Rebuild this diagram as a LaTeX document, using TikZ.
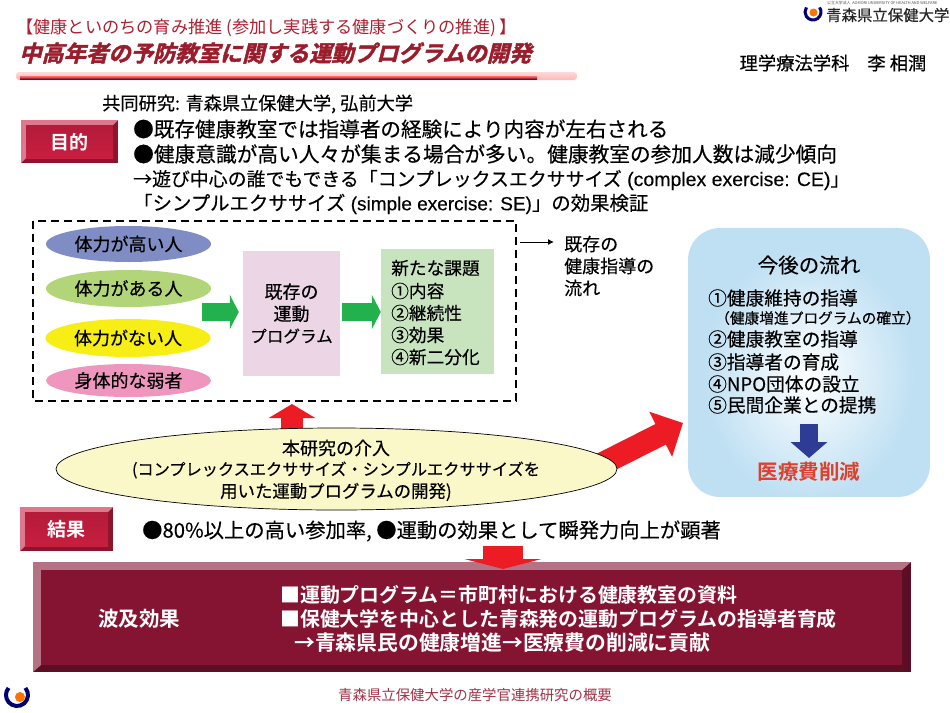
\documentclass[tikz,border=0pt]{standalone}
\usepackage{fontspec}
\usetikzlibrary{arrows.meta,shapes.geometric,calc}
\setmainfont[FakeBold=0.35]{Noto Sans CJK JP}
\newfontfamily\plainfont{Noto Sans CJK JP}
\newfontfamily\titlefont[FakeSlant=0.25,FakeBold=2]{Noto Sans CJK JP Bold}
\newfontfamily\boldfont{Noto Sans CJK JP Bold}
\newfontfamily\latfont[FakeBold=0.3]{Liberation Sans}
\newcommand{\fs}[1]{\fontsize{#1}{#1}\selectfont}
\newcommand{\warrow}{\makebox[1em]{→}}
\definecolor{headred}{HTML}{AC2030}
\definecolor{wine}{HTML}{851433}
\definecolor{lab}{HTML}{C81E40}
\definecolor{skyblue}{HTML}{BFE0F3}
\tikzset{
  x=1pt,y=-1pt,
  txt/.style={inner sep=0pt,anchor=west,text=black},
  ctr/.style={inner sep=0pt,align=center,text=black},
  body/.style={txt,font=\fs{20.6}},
  oval/.style={ellipse,minimum width=165pt,inner sep=0pt,font=\fs{18}},
  greenarrow/.style={line width=18pt,draw={rgb,255:red,34;green,177;blue,76},-{Triangle[length=9pt,width=34pt]}},
  redarrow/.style={draw={rgb,255:red,237;green,28;blue,36}},
  flowitem/.style={txt,font=\fs{18.7}},
  impact/.style={txt,text=white,font=\boldfont\fs{19.9}},
}
\begin{document}
\begin{tikzpicture}
\useasboundingbox (0,0) rectangle (950,712);
% header
\node[txt,text=headred,font=\plainfont\fs{17.2}] (hd) at (16,28) {【健康といのちの育み推進 (参加し実践する健康づくりの推進) 】};
\node[txt,text=headred!90!black,font=\titlefont\fs{22.3}] (ttl) at (19,53) {中高年者の予防教室に関する運動プログラムの開発};
\shade[top color=pink!60!white,bottom color=pink!80!red!70,rounded corners=3pt] (16,72) rectangle (577,80);
\shade[top color=red!50!pink,bottom color=wine!80!black] (20,76.5) rectangle (537,79);
\node[ctr,font=\fs{18.3}] (auth) at (833,63) {理学療法学科\hspace{18pt}李 相潤};
\node[txt,font=\fs{18.2}] (co) at (102,104) {共同研究: 青森県立保健大学, 弘前大学};
% top logo
\draw[line width=3pt,draw=blue!45!black] (813,12) ++(35:8pt) arc[start angle=35,end angle=-215,radius=8pt];
\fill[orange!90!red] (813.5,12.5) circle (4pt);
\node[txt,font=\fs{15.4},text=black!85] (logo) at (826,15) {青森県立保健大学};
\node[txt,font=\plainfont\fs{3.9},text=black!70] (logos) at (827,3) {公立大学法人\ \ AOMORI UNIVERSITY OF HEALTH AND WELFARE};
% purpose label
\fill[lab!70!black] (21,120) rectangle (118,163);
\fill[lab!60!white] (21,120) -- (118,120) -- (113,125) -- (26,125) -- (26,158) -- (21,163) -- cycle;
\shade[top color=lab!90!black,bottom color=lab] (26,125) rectangle (113,158);
\node[ctr,text=white,font=\boldfont\fs{19}] (mokuteki) at (69.5,142) {目的};
\node[body] (p1) at (133,129) {●既存健康教室では指導者の経験により内容が左右される};
\node[body,font=\fs{20.7}] (p2) at (133,154) {●健康意識が高い人々が集まる場合が多い。健康教室の参加人数は減少傾向};
\node[body,font=\fs{18.9}] (p3) at (133,180) {\warrow 遊び中心の誰でもできる「コンプレックスエクササイズ{\latfont\fs{19.5} (complex exercise: CE)}」};
\node[body,font=\fs{19.4}] (p4) at (133,204) {「シンプルエクササイズ{\latfont\fs{19} (simple exercise: SE)}」の効果検証};
% dashed group
\draw[line width=1.6pt,dash pattern=on 8pt off 5pt] (33,221) rectangle (516,401);
\node[oval,fill={rgb,255:red,128;green,141;blue,196},minimum height=36pt] (a1) at (128.5,244) {体力が高い人};
\node[oval,fill={rgb,255:red,178;green,213;blue,122},minimum height=37pt] (a2) at (128.5,288.5) {体力がある人};
\node[oval,fill={rgb,255:red,246;green,238;blue,20},minimum height=38pt] (a3) at (128,338) {体力がない人};
\node[oval,fill={rgb,255:red,238;green,150;blue,190},minimum height=33pt] (a4) at (128.5,380.5) {身体的な弱者};
\node[ctr,fill={rgb,255:red,236;green,214;blue,230},minimum width=97pt,minimum height=125pt,font=\fs{18}] (prog) at (291.5,313.5) {既存の\\[4pt]運動\\[4pt]{\fs{16.6}プログラム}};
\node[fill={rgb,255:red,200;green,228;blue,191},minimum width=113pt,minimum height=125pt,inner sep=0pt] (issue) at (437.5,311.5) {};
\node[txt,font=\fs{17.7}] (i0) at (391,268) {新たな課題};
\node[txt,font=\fs{17.7}] (i1) at (391,291) {①内容};
\node[txt,font=\fs{17.7}] (i2) at (391,313) {②継続性};
\node[txt,font=\fs{17.7}] (i3) at (391,335) {③効果};
\node[txt,font=\fs{17.7}] (i4) at (391,357) {④新二分化};
\coordinate (g1) at (202,312);
\coordinate (g2) at (342,312);
\draw[greenarrow,shorten >=4pt] (g1) -- (prog.west|-g1);
\draw[greenarrow] (g2) -- (issue.west|-g2);
% existing flow
\coordinate (ex) at (520,242);
\node[txt,font=\fs{18},align=left] (exist) at (564,266) {既存の\\[4pt]健康指導の\\[4pt]流れ};
\draw[line width=1pt,shorten >=10pt,-{Latex[length=6pt,width=6pt]}] (ex) -- (exist.west|-ex);
% red arrows behind ellipse
\coordinate (ru) at (292,436);
\coordinate (rt) at (292,404);
\draw[redarrow,line width=22pt,-{Triangle[length=14pt,width=46pt]}] (ru) -- (rt);
\coordinate (rd) at (590,470);
\coordinate (rq) at (683,423);
\draw[redarrow,line width=23pt,-{Triangle[length=25pt,width=49pt]}] (rd) -- (rq);
\node[ellipse,draw=black,line width=.7pt,fill={rgb,255:red,250;green,247;blue,200},minimum width=561pt,minimum height=82pt,inner sep=0pt] (intro) at (336.5,469) {};
\node[ctr,font=\fs{18}] (t1) at (336,448) {本研究の介入};
\node[ctr,font=\fs{16.2}] (t2) at (336,470) {(コンプレックスエクササイズ・シンプルエクササイズを};
\node[ctr,font=\fs{17.4}] (t3) at (336,492) {用いた運動プログラムの開発)};
% future flow
\begin{scope}
\clip[rounded corners=32pt] (688,228) rectangle (930,497);
\fill[skyblue] (688,228) rectangle (930,497);
\shade[inner color=white,outer color=skyblue] (809,375) ellipse [x radius=105pt,y radius=125pt];
\end{scope}
\node[ctr,font=\fs{20.5}] (fhead) at (809,265) {今後の流れ};
\node[flowitem] (f1) at (708,298) {①健康維持の指導};
\node[txt,font=\fs{14.7}] (f1b) at (715,318) {（健康増進プログラムの確立）};
\node[flowitem] (f2) at (708,339) {②健康教室の指導};
\node[flowitem] (f3) at (708,362) {③指導者の育成};
\node[flowitem] (f4) at (708,384) {④NPO団体の設立};
\node[flowitem] (f5) at (708,405) {⑤民間企業との提携};
\node[ctr,text={rgb,255:red,222;green,64;blue,46},font=\boldfont\fs{20.5}] (cut) at (809,472) {医療費削減};
\coordinate (b0) at (809,424);
\coordinate (b1) at (809,458);
\draw[draw={rgb,255:red,47;green,60;blue,150},line width=18pt,-{Triangle[length=16pt,width=36pt]}] (b0) -- (b1);
% result
\fill[lab!70!black] (20,507) rectangle (113,551);
\fill[lab!60!white] (20,507) -- (113,507) -- (108,512) -- (25,512) -- (25,546) -- (20,551) -- cycle;
\shade[top color=lab!90!black,bottom color=lab] (25,512) rectangle (108,546);
\node[ctr,text=white,font=\boldfont\fs{19}] (kekka) at (66.5,529) {結果};
\node[txt,font=\fs{20.3}] (res) at (142,531) {●80\%以上の高い参加率, ●運動の効果として瞬発力向上が顕著};
% impact box
\fill[wine!70!black] (33,562) rectangle (911,672);
\fill[wine!60!white] (33,562) -- (911,562) -- (902,570) -- (41,570) -- (41,665) -- (33,672) -- cycle;
\fill[wine] (41,570) rectangle (902,665);
\coordinate (d0) at (503,546);
\coordinate (d1) at (503,569);
\draw[redarrow,line width=40pt,-{Triangle[length=10pt,width=77pt]}] (d0) -- (d1);
\node[ctr,text=white,font=\boldfont\fs{20.5}] (ha) at (139,619) {波及効果};
\node[impact] (m1) at (280,595) {■運動プログラム＝市町村における健康教室の資料};
\node[impact] (m2) at (280,619) {■保健大学を中心とした青森発の運動プログラムの指導者育成};
\node[impact,font=\boldfont\fs{20.8}] (m3) at (294,643) {\warrow 青森県民の健康増進\warrow 医療費の削減に貢献};
% footer
\node[ctr,text={rgb,255:red,160;green,50;blue,70},font=\plainfont\fs{14.4}] (ft) at (475,695) {青森県立保健大学の産学官連携研究の概要};
\draw[line width=4pt,draw=blue!45!black] (17,695) ++(40:11pt) arc[start angle=40,end angle=-220,radius=11pt];
\fill[orange!90!red] (20,697) circle (5pt);
\end{tikzpicture}
\end{document}
